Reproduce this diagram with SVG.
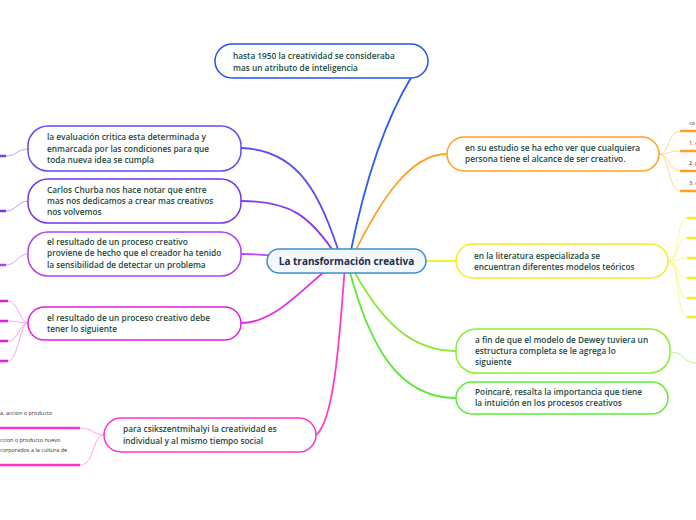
<svg xmlns="http://www.w3.org/2000/svg" width="696" height="520" viewBox="0 0 696 520">
<style>
.n{fill:#fff;stroke-width:1.5}
.t{font-family:"Open Sans","Noto Sans",sans-serif;font-weight:600;font-size:8.3px;fill:#1b4a3c}
.s{font-family:"Open Sans","Noto Sans",sans-serif;font-size:5.5px;fill:#333}
.c{fill:none;stroke-width:1.8;stroke-linecap:round}
.l{fill:none;stroke-width:0.9}
.u{fill:none;stroke-width:2.5}
</style>
<rect width="696" height="520" fill="#fff"/>
<g id="connectors">
<path class="c" stroke="#2a5cf0" d="M350,255 C365,180 385,120 412,76"/>
<path class="c" stroke="#5a4ef5" d="M341,258 C320,195 300,150 241,148"/>
<path class="c" stroke="#8a3af0" d="M338,258 C310,215 290,201 241,201"/>
<path class="c" stroke="#b547f5" d="M335,260 C300,258 270,254 241,254"/>
<path class="c" stroke="#e52ee0" d="M335,263 C300,290 275,323 241,323"/>
<path class="c" stroke="#ff3dc8" d="M345,265 C340,330 335,420 316,435"/>
<path class="c" stroke="#ffa126" d="M352,258 C380,200 410,154 447,154"/>
<path class="c" stroke="#f5f52a" d="M350,261 C400,261 420,261 456,261"/>
<path class="c" stroke="#8de83a" d="M350,264 C380,320 410,351 456,351"/>
<path class="c" stroke="#5ce83a" d="M348,265 C370,350 400,398 456,398"/>
<path class="l" stroke="#a9a0f5" d="M28,149 C18,149 16,156 6,156"/>
<path class="u" stroke="#5d4df0" d="M0,156 L6,156"/>
<path class="l" stroke="#b58cf5" d="M28,201 C18,201 16,211 6,211"/>
<path class="u" stroke="#7a33e8" d="M0,211 L6,211"/>
<path class="l" stroke="#d49af8" d="M28,254 C18,254 16,265 6,265"/>
<path class="u" stroke="#b040f0" d="M0,265 L6,265"/>
<path class="l" stroke="#f59af0" d="M28,323 C20,323 18,301 8,301 M28,323 C20,323 18,321 8,321 M28,323 C20,323 18,341 8,341 M28,323 C20,323 18,361 8,361"/>
<path class="u" stroke="#e020e0" d="M0,301 L8,301 M0,321 L8,321 M0,341 L8,341 M0,361 L8,361"/>
<path class="l" stroke="#ff99e0" d="M104,435 C95,435 92,428 80,428 M104,435 C92,435 95,465 80,465"/>
<path class="u" stroke="#ff33cc" d="M0,428 L80,428 M0,465 L80,465"/>
<path class="l" stroke="#ffd38a" d="M659,154 C670,154 668,131 680,131 M659,154 C670,154 668,151 680,151 M659,154 C670,154 668,171 680,171 M659,154 C670,154 668,191 680,191"/>
<path class="u" stroke="#ffa020" d="M680,131 L696,131 M680,151 L696,151 M680,171 L696,171 M680,191 L696,191"/>
<path class="l" stroke="#f8f880" d="M668,261 C680,261 676,218 687,218 M668,261 C680,261 676,238 687,238 M668,261 C680,261 676,258 687,258 M668,261 C680,261 676,278 687,278 M668,261 C680,261 676,298 687,298 M668,261 C680,261 676,317 687,317"/>
<path class="u" stroke="#f0f020" d="M687,218 L696,218 M687,238 L696,238 M687,258 L696,258 M687,278 L696,278 M687,298 L696,298 M687,317 L696,317"/>
<path class="l" stroke="#bbee88" d="M670,352 C684,352 684,363 696,363"/>
</g>
<g id="center">
<rect x="267" y="249" width="159" height="24" rx="12" fill="#f4f8fc" stroke="#3d8fcf" stroke-width="1.5"/>
<text x="346.5" y="265" text-anchor="middle" font-family="'Open Sans','Noto Sans',sans-serif" font-weight="700" font-size="10" fill="#1a2b4d">La transformación creativa</text>
</g>
<g id="n-top">
<rect class="n" x="215" y="44" width="213" height="34" rx="17" stroke="#2255ee"/>
<text class="t" x="233" y="59">hasta 1950 la creatividad se consideraba</text>
<text class="t" x="233" y="71">mas un atributo de inteligencia</text>
</g>
<g id="n-eval">
<rect class="n" x="28" y="126" width="213" height="45" rx="20" stroke="#5d4df0"/>
<text class="t" x="47" y="140">la evaluación critica esta determinada y</text>
<text class="t" x="47" y="152">enmarcada por las condiciones para que</text>
<text class="t" x="47" y="163">toda nueva idea se cumpla</text>
</g>
<g id="n-churba">
<rect class="n" x="28" y="179" width="213" height="44" rx="20" stroke="#7a33e8"/>
<text class="t" x="47" y="193">Carlos Churba nos hace notar que entre</text>
<text class="t" x="47" y="204">mas nos dedicamos a crear mas creativos</text>
<text class="t" x="47" y="215">nos volvemos</text>
</g>
<g id="n-resultado1">
<rect class="n" x="28" y="232" width="213" height="44" rx="20" stroke="#b040f0"/>
<text class="t" x="47" y="245">el resultado de un proceso creativo</text>
<text class="t" x="47" y="256">proviene de hecho que el creador ha tenido</text>
<text class="t" x="47" y="268">la sensibilidad de detectar un problema</text>
</g>
<g id="n-resultado2">
<rect class="n" x="28" y="307" width="213" height="33" rx="16.5" stroke="#e020e0"/>
<text class="t" x="47" y="321">el resultado de un proceso creativo debe</text>
<text class="t" x="47" y="332">tener lo siguiente</text>
</g>
<g id="n-csik">
<rect class="n" x="104" y="418" width="212" height="34" rx="17" stroke="#ff33cc"/>
<text class="t" x="123" y="432">para csikszentmihalyi la creatividad es</text>
<text class="t" x="123" y="444">individual y al mismo tiempo social</text>
</g>
<g id="n-csik-children">
<text class="s" x="0" y="415">a, accion o producto</text>
<text class="s" x="0" y="442">ccion o producto nuevo</text>
<text class="s" x="0" y="452">corporados a la cultura de</text>
</g>
<g id="n-estudio">
<rect class="n" x="447" y="137" width="212" height="34" rx="17" stroke="#ffa020"/>
<text class="t" x="465" y="151">en su estudio se ha echo ver que cualquiera</text>
<text class="t" x="465" y="162">persona tiene el alcance de ser creativo.</text>
</g>
<g id="n-estudio-children">
<text class="s" x="689" y="125">co</text>
<text class="s" x="689" y="145">1. c</text>
<text class="s" x="689" y="165">2. p</text>
<text class="s" x="689" y="185">3. c</text>
</g>
<g id="n-literatura">
<rect class="n" x="456" y="244" width="212" height="34" rx="17" stroke="#f0f020"/>
<text class="t" x="474" y="259">en la literatura especializada se</text>
<text class="t" x="474" y="270">encuentran diferentes modelos teóricos</text>
</g>
<g id="n-dewey">
<rect class="n" x="456" y="329" width="214" height="44" rx="20" stroke="#88ee33"/>
<text class="t" x="475" y="343">a fin de que el modelo de Dewey tuviera un</text>
<text class="t" x="475" y="354">estructura completa se le agrega lo</text>
<text class="t" x="475" y="365">siguiente</text>
</g>
<g id="n-poincare">
<rect class="n" x="456" y="382" width="212" height="32" rx="16" stroke="#55ee33"/>
<text class="t" x="475" y="395">Poincaré, resalta la importancia que tiene</text>
<text class="t" x="475" y="406">la intuición en los procesos creativos</text>
</g>
</svg>
